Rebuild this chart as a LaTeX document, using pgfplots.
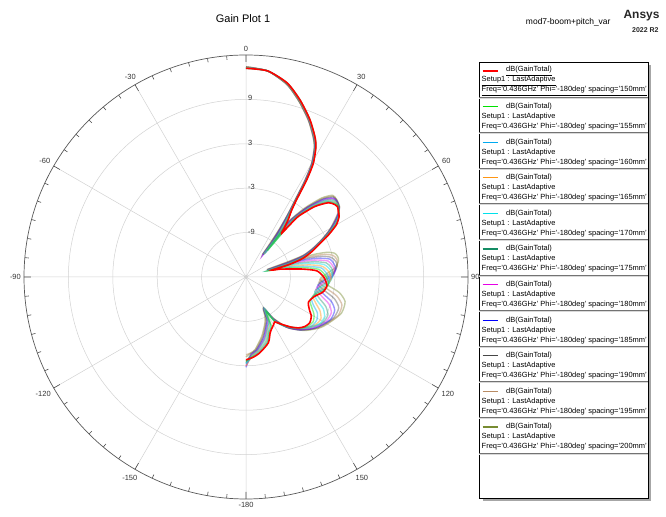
\documentclass[border=0pt]{standalone}
\usepackage{fontspec}
\setmainfont{Liberation Sans}
\usepackage{pgfplots}
\pgfplotsset{compat=1.18}
\usepgfplotslibrary{polar}
\usepackage{pgfplotstable}

\definecolor{c150}{RGB}{255,0,0}
\definecolor{c155}{RGB}{0,225,0}
\definecolor{c160}{RGB}{0,170,240}
\definecolor{c165}{RGB}{255,150,20}
\definecolor{c170}{RGB}{0,225,235}
\definecolor{c175}{RGB}{20,140,100}
\definecolor{c180}{RGB}{230,0,230}
\definecolor{c185}{RGB}{0,0,255}
\definecolor{c190}{RGB}{70,70,70}
\definecolor{c195}{RGB}{185,140,100}
\definecolor{c200}{RGB}{120,140,50}

% spacing 150 mm
\pgfplotstableread{
t d
0 13.2
6 13.0
12 11.8
17 10.0
22 8.0
26 6.2
28.2 5.0
30.6 2.9
32.0 0.5
33.2 -2.5
34.3 -4.0
36.4 -5.4
38.3 -6.8
39.2 -7.4
40.0 -6.0
40.8 -4.2
44.3 -1.7
48.0 0.0
50.9 0.5
52.5 0.6
54.6 0.3
57.0 0.0
60.0 -0.9
63.0 -2.5
66.0 -4.2
69.0 -5.5
72.0 -7.0
74.0 -9.0
75.0 -11.4
77.0 -10.3
79.3 -9.2
82.0 -7.3
85.0 -5.4
90.0 -4.5
96.0 -4.0
101.0 -4.4
106.0 -5.4
112.0 -5.9
117.0 -5.4
121.0 -4.7
125.7 -4.4
130.0 -4.6
134.0 -5.1
138.0 -5.9
142.0 -6.8
145.0 -7.4
147.5 -7.8
149.5 -7.6
152.6 -7.3
156.5 -6.8
161.3 -5.6
169.6 -4.6
175.0 -4.1
180.0 -3.8
}\tA

% spacing 155 mm
\pgfplotstableread{
t d
0 13.2
6 13.0
12 11.8
17.0 10.0
22.0 8.0
26.0 6.2
28.2 5.0
30.5 2.9
31.9 0.5
33.1 -2.5
34.3 -4.1
36.3 -5.6
38.1 -7.1
38.9 -10.4
39.7 -6.2
40.5 -4.3
43.9 -1.8
47.6 0.0
50.5 0.6
52.2 0.7
54.4 0.4
56.8 0.0
59.7 -0.9
62.8 -2.5
65.8 -4.1
68.8 -5.5
71.7 -7.0
73.6 -9.0
74.6 -11.8
76.4 -10.1
78.5 -8.8
81.1 -6.9
84.0 -5.1
88.8 -4.3
94.4 -3.8
99.3 -4.3
104.2 -5.3
110.0 -5.8
114.9 -5.2
118.9 -4.5
123.5 -4.1
128.1 -4.3
132.3 -4.8
136.6 -5.6
141.0 -6.5
144.5 -7.3
147.4 -7.9
149.6 -9.6
152.7 -7.5
156.6 -7.0
161.7 -5.7
169.9 -4.6
175.2 -4.2
180 -3.6
}\tB

% spacing 160 mm
\pgfplotstableread{
t d
0 13.2
6 13.0
12 11.8
17.0 10.0
21.9 8.0
25.9 6.2
28.1 5.0
30.5 2.8
31.9 0.4
33.1 -2.6
34.2 -4.2
36.1 -5.8
37.8 -7.4
38.6 -10.9
39.4 -6.4
40.1 -4.5
43.5 -1.9
47.2 0.0
50.1 0.6
51.9 0.7
54.3 0.4
56.6 0.0
59.4 -0.9
62.5 -2.4
65.6 -4.1
68.6 -5.5
71.5 -7.0
73.2 -9.0
74.1 -11.8
75.8 -9.8
77.7 -8.5
80.2 -6.6
83.0 -4.8
87.5 -4.1
92.8 -3.7
97.6 -4.1
102.4 -5.2
108.0 -5.7
112.8 -5.1
116.7 -4.2
121.4 -3.8
126.1 -3.9
130.7 -4.5
135.2 -5.3
140.0 -6.3
144.0 -7.1
147.3 -8.0
149.8 -9.9
152.9 -7.7
156.7 -7.1
162.1 -5.8
170.3 -4.7
175.3 -4.2
180 -3.3
}\tC

% spacing 165 mm
\pgfplotstableread{
t d
0 13.3
6 13.0
12 11.7
16.9 9.9
21.9 7.9
25.9 6.1
28.1 4.9
30.5 2.8
31.8 0.4
33.0 -2.6
34.2 -4.3
36.0 -6.0
37.6 -7.8
38.3 -11.0
39.1 -6.6
39.8 -4.6
43.2 -2.0
46.7 -0.1
49.6 0.7
51.6 0.8
54.1 0.5
56.4 0.1
59.2 -0.8
62.3 -2.4
65.3 -4.0
68.4 -5.4
71.2 -6.9
72.8 -9.0
73.7 -11.9
75.2 -9.6
77.0 -8.1
79.3 -6.2
82.0 -4.6
86.3 -3.8
91.2 -3.5
96.0 -4.0
100.6 -5.0
106.0 -5.6
110.7 -4.9
114.6 -4.0
119.2 -3.4
124.2 -3.6
129.0 -4.2
133.8 -5.0
139.0 -6.0
143.5 -7.0
147.2 -8.0
149.9 -10.0
153.0 -7.9
156.8 -7.3
162.5 -5.9
170.6 -4.8
175.5 -4.3
180 -3.0
}\tD

% spacing 170 mm
\pgfplotstableread{
t d
0 13.3
6 13.0
12 11.7
16.9 9.9
21.9 7.9
25.8 6.1
28.0 4.9
30.4 2.8
31.8 0.4
33.0 -2.6
34.1 -4.4
35.8 -6.2
37.3 -8.1
38.0 -11.1
38.8 -6.8
39.5 -4.7
42.8 -2.1
46.3 -0.1
49.2 0.7
51.3 0.8
54.0 0.5
56.2 0.1
58.9 -0.8
62.0 -2.3
65.1 -4.0
68.2 -5.4
70.9 -6.9
72.4 -9.0
73.2 -11.9
74.6 -9.4
76.2 -7.7
78.4 -5.8
81.0 -4.3
85.0 -3.6
89.6 -3.3
94.3 -3.8
98.8 -4.9
104.0 -5.5
108.6 -4.8
112.4 -3.7
117.0 -3.1
122.2 -3.2
127.4 -3.9
132.4 -4.7
138.0 -5.8
143.0 -6.8
147.1 -8.0
150.0 -10.1
153.2 -8.1
156.9 -7.4
162.9 -6.0
170.9 -4.8
175.6 -4.3
180 -3.3
}\tE

% spacing 175 mm
\pgfplotstableread{
t d
0 13.3
6 13.0
12 11.7
16.9 9.9
21.9 7.9
25.8 6.1
28.0 4.9
30.4 2.8
31.7 0.4
32.9 -2.7
34.1 -4.5
35.7 -6.5
37.1 -8.4
37.8 -11.1
38.5 -7.0
39.2 -4.9
42.4 -2.2
45.9 -0.1
48.8 0.8
51.0 0.9
53.8 0.6
56.0 0.1
58.6 -0.8
61.8 -2.3
64.9 -3.9
68.0 -5.4
70.7 -6.9
72.0 -9.0
72.8 -11.9
74.0 -9.2
75.4 -7.4
77.5 -5.5
80.0 -4.0
83.8 -3.4
88.0 -3.2
92.6 -3.7
97.0 -4.8
102.0 -5.5
106.5 -4.6
110.3 -3.5
114.9 -2.8
120.3 -2.9
125.7 -3.6
131.0 -4.4
137.0 -5.5
142.5 -6.7
147.0 -8.1
150.2 -10.1
153.3 -8.3
157.0 -7.6
163.3 -6.2
171.3 -4.9
175.8 -4.4
180 -3.6
}\tF

% spacing 180 mm
\pgfplotstableread{
t d
0 13.3
6 13.0
12 11.7
16.9 9.9
21.8 7.9
25.8 6.1
28.0 4.9
30.3 2.7
31.6 0.3
32.8 -2.7
34.0 -4.6
35.6 -6.7
36.8 -8.7
37.5 -11.2
38.1 -7.2
38.8 -5.0
42.0 -2.3
45.5 -0.1
48.4 0.9
50.7 0.9
53.6 0.6
55.8 0.1
58.3 -0.8
61.5 -2.2
64.7 -3.8
67.8 -5.4
70.4 -6.9
71.6 -9.0
72.3 -11.9
73.4 -8.9
74.6 -7.0
76.6 -5.1
79.0 -3.7
82.5 -3.2
86.4 -3.0
90.9 -3.5
95.2 -4.7
100.0 -5.4
104.4 -4.4
108.1 -3.2
112.7 -2.5
118.4 -2.6
124.0 -3.2
129.6 -4.0
136.0 -5.2
142.0 -6.6
146.9 -8.1
150.3 -10.1
153.4 -8.4
157.1 -7.7
163.6 -6.3
171.6 -4.9
175.9 -4.5
180 -3.0
}\tG

% spacing 185 mm
\pgfplotstableread{
t d
0 13.3
6 13.0
12 11.7
16.9 9.9
21.8 7.9
25.7 6.1
27.9 4.9
30.3 2.7
31.6 0.3
32.8 -2.7
34.0 -4.7
35.4 -6.9
36.6 -9.0
37.2 -11.2
37.8 -7.4
38.5 -5.1
41.6 -2.4
45.1 -0.1
48.0 0.9
50.4 1.0
53.5 0.7
55.6 0.1
58.0 -0.8
61.3 -2.2
64.5 -3.8
67.6 -5.4
70.1 -6.9
71.2 -9.0
71.9 -11.9
72.8 -8.7
73.8 -6.6
75.7 -4.7
78.0 -3.4
81.3 -3.0
84.8 -2.8
89.2 -3.3
93.4 -4.6
98.0 -5.3
102.3 -4.3
106.0 -3.0
110.5 -2.2
116.4 -2.2
122.4 -2.9
128.2 -3.7
135.0 -4.9
141.5 -6.4
146.8 -8.2
150.4 -10.1
153.6 -8.6
157.2 -7.9
164.0 -6.4
171.9 -5.0
176.1 -4.5
180 -2.8
}\tH

% spacing 190 mm
\pgfplotstableread{
t d
0 13.4
6 13.0
12 11.6
16.8 9.8
21.8 7.8
25.7 6.0
27.9 4.8
30.2 2.7
31.5 0.3
32.7 -2.7
33.9 -4.8
35.3 -7.1
36.3 -9.4
36.9 -11.2
37.5 -7.6
38.2 -5.2
41.3 -2.5
44.6 -0.2
47.5 1.0
50.1 1.0
53.3 0.7
55.4 0.2
57.8 -0.7
61.0 -2.1
64.2 -3.7
67.4 -5.3
69.8 -6.8
70.8 -9.0
71.4 -12.0
72.2 -8.5
73.1 -6.2
74.8 -4.3
77.0 -3.2
80.0 -2.7
83.2 -2.6
87.6 -3.2
91.6 -4.4
96.0 -5.2
100.2 -4.1
103.8 -2.7
108.3 -1.8
114.5 -1.9
120.7 -2.6
126.8 -3.4
134.0 -4.7
141.0 -6.3
146.7 -8.2
150.5 -10.1
153.7 -8.8
157.3 -8.0
164.4 -6.5
172.2 -5.0
176.2 -4.6
180 -3.4
}\tI

% spacing 195 mm
\pgfplotstableread{
t d
0 13.4
6 13.0
12 11.6
16.8 9.8
21.7 7.8
25.6 6.0
27.8 4.8
30.2 2.6
31.5 0.2
32.7 -2.8
33.9 -4.9
35.1 -7.3
36.1 -9.7
36.6 -11.2
37.2 -7.8
37.8 -5.4
40.9 -2.6
44.2 -0.2
47.1 1.0
49.8 1.1
53.2 0.8
55.2 0.2
57.5 -0.7
60.8 -2.1
64.0 -3.7
67.2 -5.3
69.6 -6.8
70.4 -9.0
71.0 -12.0
71.6 -8.2
72.3 -5.9
73.9 -4.0
76.0 -2.9
78.8 -2.5
81.6 -2.5
85.9 -3.0
89.8 -4.3
94.0 -5.1
98.1 -4.0
101.7 -2.5
106.2 -1.5
112.5 -1.5
119.1 -2.3
125.4 -3.1
133.0 -4.5
140.5 -6.1
146.6 -8.3
150.6 -10.2
153.9 -9.0
157.4 -8.2
164.8 -6.6
172.6 -5.1
176.4 -4.7
180 -4.5
}\tJ

% spacing 200 mm
\pgfplotstableread{
t d
0 13.4
6 13.0
12 11.6
16.8 9.8
21.7 7.8
25.6 6.0
27.8 4.8
30.1 2.6
31.4 0.2
32.6 -2.8
33.8 -5.0
35.0 -7.5
35.8 -10.0
36.3 -11.2
36.9 -8.0
37.5 -5.5
40.5 -2.7
43.8 -0.2
46.7 1.1
49.5 1.1
53.0 0.8
55.0 0.2
57.2 -0.7
60.5 -2.0
63.8 -3.6
67.0 -5.3
69.3 -6.8
70.0 -9.0
70.5 -12.0
71.0 -8.0
71.5 -5.5
73.0 -3.6
75.0 -2.6
77.5 -2.3
80.0 -2.3
84.2 -2.9
88.0 -4.2
92.0 -5.0
96.0 -3.8
99.5 -2.2
104.0 -1.2
110.6 -1.2
117.4 -2.0
124.0 -2.8
132.0 -4.2
140.0 -6.0
146.5 -8.3
150.8 -10.2
154.0 -9.2
157.5 -8.3
165.2 -6.7
172.9 -5.1
176.5 -4.7
180 -4.2
}\tK

\newcommand{\lgfont}{\fontsize{7.5}{9}\selectfont}

\begin{document}
\begin{tikzpicture}[x=1bp,y=1bp]
\path (0,0) rectangle (666,517);

\begin{polaraxis}[
  at={(246bp,240bp)}, anchor=center,
  scale only axis, width=444bp, height=444bp,
  xmin=90, xmax=450, ymin=0, ymax=30,
  clip=false,
  separate axis lines,
  x axis line style={black!65, line width=0.7pt},
  y axis line style={draw=none},
  xtick={90,120,...,420},
  xticklabels={0,-30,-60,-90,-120,-150,-180,150,120,90,60,30},
  minor x tick num=5,
  ytick={6,12,18,24},
  yticklabels={-9,-3,3,9},
  grid=major,
  major grid style={black!18, line width=0.5pt},
  tick align=inside,
  major tick length=-7bp, minor tick length=-4bp,
  every tick/.style={black!70, line width=0.6pt},
  ytick style={draw=none},
  xticklabel style={font=\fontsize{7.5}{8}\selectfont, text=black!80},
  yticklabel style={font=\fontsize{7.5}{8}\selectfont, text=black!80, anchor=west, xshift=-1bp, yshift=1bp},
  tick label style={inner sep=3bp},
]
\addplot[c200, line width=1.4pt, opacity=0.45, smooth, tension=0.4] table[x expr={450-\thisrow{t}}, y expr={\thisrow{d}+15}] {\tK};
\addplot[c195, line width=1.4pt, opacity=0.5, smooth, tension=0.4] table[x expr={450-\thisrow{t}}, y expr={\thisrow{d}+15}] {\tJ};
\addplot[c190, line width=1.4pt, opacity=0.4, smooth, tension=0.4] table[x expr={450-\thisrow{t}}, y expr={\thisrow{d}+15}] {\tI};
\addplot[c185, line width=1.4pt, opacity=0.4, smooth, tension=0.4] table[x expr={450-\thisrow{t}}, y expr={\thisrow{d}+15}] {\tH};
\addplot[c180, line width=1.4pt, opacity=0.4, smooth, tension=0.4] table[x expr={450-\thisrow{t}}, y expr={\thisrow{d}+15}] {\tG};
\addplot[c175, line width=1.4pt, opacity=0.4, smooth, tension=0.4] table[x expr={450-\thisrow{t}}, y expr={\thisrow{d}+15}] {\tF};
\addplot[c170, line width=1.4pt, opacity=0.45, smooth, tension=0.4] table[x expr={450-\thisrow{t}}, y expr={\thisrow{d}+15}] {\tE};
\addplot[c165, line width=1.4pt, opacity=0.45, smooth, tension=0.4] table[x expr={450-\thisrow{t}}, y expr={\thisrow{d}+15}] {\tD};
\addplot[c160, line width=1.4pt, opacity=0.45, smooth, tension=0.4] table[x expr={450-\thisrow{t}}, y expr={\thisrow{d}+15}] {\tC};
\addplot[c155, line width=1.4pt, opacity=0.45, smooth, tension=0.4] table[x expr={450-\thisrow{t}}, y expr={\thisrow{d}+15}] {\tB};
\addplot[c150, line width=1.6pt, smooth, tension=0.4] table[x expr={450-\thisrow{t}}, y expr={\thisrow{d}+15}] {\tA};
\end{polaraxis}

% titles
\node[font=\fontsize{11}{12}\selectfont] at (243,498) {Gain Plot 1};
\node[anchor=east, font=\fontsize{8.5}{10}\selectfont] at (614,495) {mod7-boom+pitch\_var};
\node[anchor=east, font=\bfseries\fontsize{12}{13}\selectfont, text=black!85] at (663,501) {Ansys};
\node[anchor=east, font=\bfseries\fontsize{7}{8}\selectfont, text=black!85] at (662,487) {2022 R2};

% legend box
\fill[black!35] (483,16) rectangle (651,452);
\fill[white] (479,19) rectangle (648,455);
\draw[black, line width=0.9pt] (479,19) rectangle (648,455);
\foreach \col/\sp [count=\k from 0] in {c150/150,c155/155,c160/160,c165/165,c170/170,c175/175,c180/180,c185/185,c190/190,c195/195,c200/200}{
  \pgfmathsetmacro{\yy}{517-71-35.6*\k}
  \draw[\col, line width=1.3pt] (482.5,\yy) -- (498,\yy);
  \ifnum\k=0
    \node[anchor=west, inner sep=0pt, font=\lgfont] at (506,\yy) {\underline{dB(GainTotal)}};
    \node[anchor=west, inner sep=0pt, font=\lgfont] at (481.5,\yy-10) {\underline{Setup1 : LastAdaptive}};
    \node[anchor=west, inner sep=0pt, font=\lgfont] at (481.5,\yy-20) {\underline{Freq='0.436GHz' Phi='-180deg' spacing='\sp mm'}};
  \else
    \node[anchor=west, inner sep=0pt, font=\lgfont] at (506,\yy) {dB(GainTotal)};
    \node[anchor=west, inner sep=0pt, font=\lgfont] at (481.5,\yy-10) {Setup1 : LastAdaptive};
    \node[anchor=west, inner sep=0pt, font=\lgfont] at (481.5,\yy-20) {Freq='0.436GHz' Phi='-180deg' spacing='\sp mm'};
  \fi
  \draw[black!55, line width=0.6pt] (479,\yy-26) -- (648,\yy-26);
  \draw[black!15, line width=0.6pt] (479,\yy-27) -- (648,\yy-27);
}
\end{tikzpicture}
\end{document}
